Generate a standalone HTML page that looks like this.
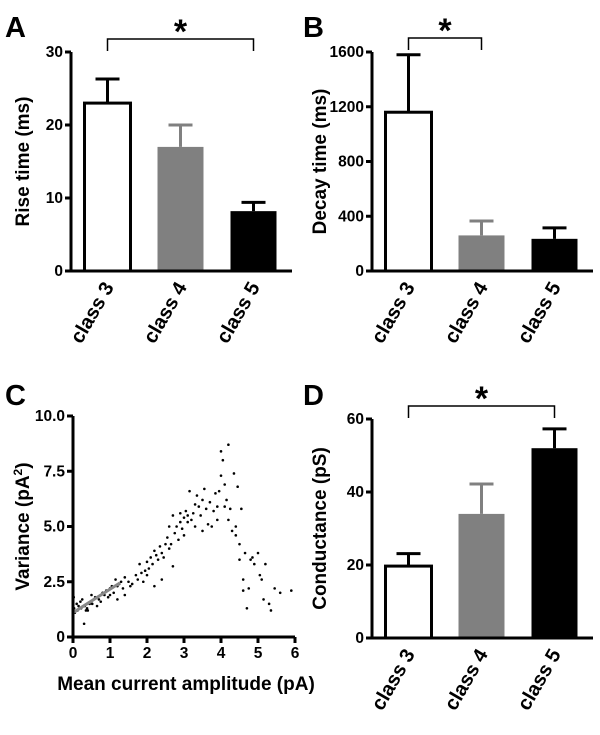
<!DOCTYPE html>
<html><head><meta charset="utf-8"><style>
body{margin:0;background:#fff}
svg{display:block;font-family:"Liberation Sans",Arial,sans-serif;font-weight:bold}
</style></head><body>
<svg id="fig" width="600" height="735" viewBox="0 0 600 735"></svg>
<script>
const categories=["class 3","class 4","class 5"];
const riseMeans=[23,17,8.2];
const riseErr=[3.3,3.0,1.2];
const decayMeans=[1160,260,235];
const decayErr=[420,105,80];
const condMeans=[19.7,34,52];
const condErr=[3.4,8.2,5.3];
const riseTicks=[0,10,20,30];
const decayTicks=[0,400,800,1200,1600];
const condTicks=[0,20,40,60];
const scatterX=[0.02,0.03,0.05,0.1,0.12,0.15,0.2,0.22,0.25,0.3,0.32,0.35,0.38,0.4,0.45,0.5,0.52,
0.6,0.65,0.7,0.75,0.8,0.85,0.9,0.95,1.0,1.0,1.05,1.1,1.15,1.2,1.2,1.25,1.3,1.35,1.4,1.4,
1.5,1.55,1.6,1.7,1.75,1.8,1.85,1.9,1.95,2.0,2.0,2.05,2.1,2.15,2.2,2.2,2.25,2.3,2.35,2.4,2.4,2.45,2.5,
2.55,2.6,2.6,2.65,2.7,2.7,2.75,2.8,2.85,2.9,2.9,2.95,3.0,3.0,3.05,3.1,3.1,3.15,3.2,
3.25,3.3,3.3,3.35,3.4,3.45,3.5,3.5,3.55,3.6,3.65,3.7,3.75,3.8,3.85,3.9,3.9,3.95,4.0,4.0,4.05,4.1,4.1,4.15,4.2,4.2,
4.25,4.3,4.35,4.4,4.4,4.45,4.5,4.5,4.55,4.6,4.6,4.65,
4.7,4.75,4.8,4.85,5.0,5.05,5.1,5.15,5.3,5.35,5.45,5.6,5.9,4.9,5.2];
const scatterY=[1.8,1.3,1.1,1.5,1.2,1.4,1.6,1.3,1.7,0.6,1.4,1.2,1.3,1.2,1.5,1.9,1.5,
1.8,1.4,1.7,1.6,2.0,1.9,2.1,1.8,2.2,1.9,2.3,2.0,2.6,2.3,1.7,2.4,2.5,2.2,2.7,1.9,
2.5,2.3,2.4,2.8,2.6,3.3,2.9,2.5,3.0,3.4,2.8,3.1,3.6,3.3,2.3,3.9,3.7,3.5,4.1,3.8,2.6,3.6,4.2,
4.5,4.0,5.0,4.2,5.5,3.2,4.7,5.0,4.4,5.2,5.6,4.9,5.4,4.6,5.7,5.2,5.5,6.6,5.3,
5.6,6.0,5.0,6.4,5.9,5.5,6.2,4.8,6.7,5.8,5.1,6.1,5.0,5.7,6.5,5.9,5.3,6.6,8.4,7.3,8.0,6.9,5.9,6.2,8.7,5.3,
5.8,4.8,7.4,5.0,4.6,6.8,4.2,3.5,5.8,2.6,2.1,3.8,
1.3,2.2,3.5,3.6,3.8,2.8,2.6,1.7,1.5,1.2,2.2,2.0,2.1,3.3,3.3];
const scatterXTicks=[0,1,2,3,4,5,6];
const scatterYTicks=["0","2.5","5.0","7.5","10.0"];
const fitLine=[[0,1.1],[1.27,2.45]];

const NS="http://www.w3.org/2000/svg";
const svg=document.getElementById('fig');
function el(tag,attrs,parent,text){const e=document.createElementNS(NS,tag);for(const k in attrs)e.setAttribute(k,attrs[k]);if(text!==undefined)e.textContent=text;(parent||svg).appendChild(e);return e;}

function barPanel(o){
  const g=el('g',{});
  
  
  const ys=v=>o.y0-(v-o.min)/(o.max-o.min)*(o.y0-o.yTop);
  const lt=el('text',{x:o.lx,y:o.ly,'font-size':29},g,o.letter);
  
  
  const fills=['#fff','#808080','#000'];
  const strokes=['#000','#808080','#000'];
  const barX=[o.ax+12,o.ax+85,o.ax+158];
  o.means.forEach((m,i)=>{
    const x=barX[i],w=49,cx=x+w/2,top=ys(m),et=ys(m+o.errs[i]);
    const ew=el('path',{d:`M${cx} ${top}V${et}M${cx-12} ${et}H${cx+12}`,stroke:strokes[i],'stroke-width':3,fill:'none'},g);
    
    
    const r=el('rect',{x:x+1.5,y:top,width:w-3,height:o.y0-top,fill:fills[i],stroke:strokes[i],'stroke-width':i==0?3:0},g);
    
    
    const t=el('text',{transform:`translate(${cx+7},${o.y0+16}) rotate(-60)`,'text-anchor':'end','font-size':20},g,categories[i]);
    
    
  });
  const ax=el('path',{d:`M${o.ax} ${o.yTop}V${o.y0}H${o.ax+221}`,stroke:'#000','stroke-width':3,fill:'none'},g);
  
  
  o.ticks.forEach(v=>{
    const y=ys(v);
    el('line',{x1:o.ax-6,x2:o.ax,y1:y,y2:y,stroke:'#000','stroke-width':3},g);
    const t=el('text',{x:o.ax-8,y:y+5,'text-anchor':'end','font-size':15.5},g,v);
    
    
  });
  const yt=el('text',{transform:`translate(${o.tx},${(o.y0+o.yTop)/2}) rotate(-90)`,'text-anchor':'middle','font-size':19},g,o.title);
  
  
  const b=o.bracket, bx1=barX[b[0]]+24.5, bx2=barX[b[1]]+24.5;
  const br=el('path',{d:`M${bx1} ${o.by+12}V${o.by}H${bx2}V${o.by+12}`,stroke:'#000','stroke-width':1.5,fill:'none'},g);
  
  
  const st=el('text',{x:(bx1+bx2)/2,y:o.by+4,'text-anchor':'middle','font-size':34},g,'*');
  
  
}
barPanel({name:'panel-a-rise-time',letter:'A',lx:5,ly:37,ax:71,y0:271,yTop:52,min:0,max:30,means:riseMeans,errs:riseErr,ticks:riseTicks,title:'Rise time (ms)',tx:29,bracket:[0,2],by:39});
barPanel({name:'panel-b-decay-time',letter:'B',lx:303,ly:37,ax:372,y0:271,yTop:52,min:0,max:1600,means:decayMeans,errs:decayErr,ticks:decayTicks,title:'Decay time (ms)',tx:326,bracket:[0,1],by:38});
barPanel({name:'panel-d-conductance',letter:'D',lx:303,ly:405,ax:372,y0:638,yTop:419,min:0,max:60,means:condMeans,errs:condErr,ticks:condTicks,title:'Conductance (pS)',tx:326,bracket:[0,2],by:406});

// Panel C
const gc=el('g',{});


const cx0=73,cx6=295,cy0=637,cy10=416;
const sx=v=>cx0+v/6*(cx6-cx0), sy=v=>cy0-v/10*(cy0-cy10);
const lc=el('text',{x:5,y:405,'font-size':29},gc,'C');


scatterX.forEach((x,i)=>{
  const p=el('circle',{cx:sx(x),cy:sy(scatterY[i]),r:1.3,fill:'#000'},gc);
  
  
});
const fl=el('line',{x1:sx(fitLine[0][0]),y1:sy(fitLine[0][1]),x2:sx(fitLine[1][0]),y2:sy(fitLine[1][1]),stroke:'#888','stroke-width':3},gc);


const cax=el('path',{d:`M${cx0} ${cy10}V${cy0}H${cx6}`,stroke:'#000','stroke-width':3,fill:'none'},gc);


scatterYTicks.forEach((lab,i)=>{
  const y=sy(i*2.5);
  el('line',{x1:cx0-6,x2:cx0,y1:y,y2:y,stroke:'#000','stroke-width':3},gc);
  const t=el('text',{x:cx0-8,y:y+5,'text-anchor':'end','font-size':15.5},gc,lab);
  
  
});
scatterXTicks.forEach(v=>{
  const x=sx(v);
  el('line',{x1:x,x2:x,y1:cy0,y2:cy0+6,stroke:'#000','stroke-width':3},gc);
  const t=el('text',{x:x,y:cy0+21,'text-anchor':'middle','font-size':15.5},gc,v);
  
  
});
const cxt=el('text',{x:186,y:690,'text-anchor':'middle','font-size':19},gc,'Mean current amplitude (pA)');


const cyt=el('text',{transform:`translate(29,${(cy0+cy10)/2}) rotate(-90)`,'text-anchor':'middle','font-size':19},gc);


el('tspan',{},cyt,'Variance (pA');
el('tspan',{'font-size':12,dy:-7},cyt,'2');
el('tspan',{dy:7},cyt,')');
</script>
</body></html>
